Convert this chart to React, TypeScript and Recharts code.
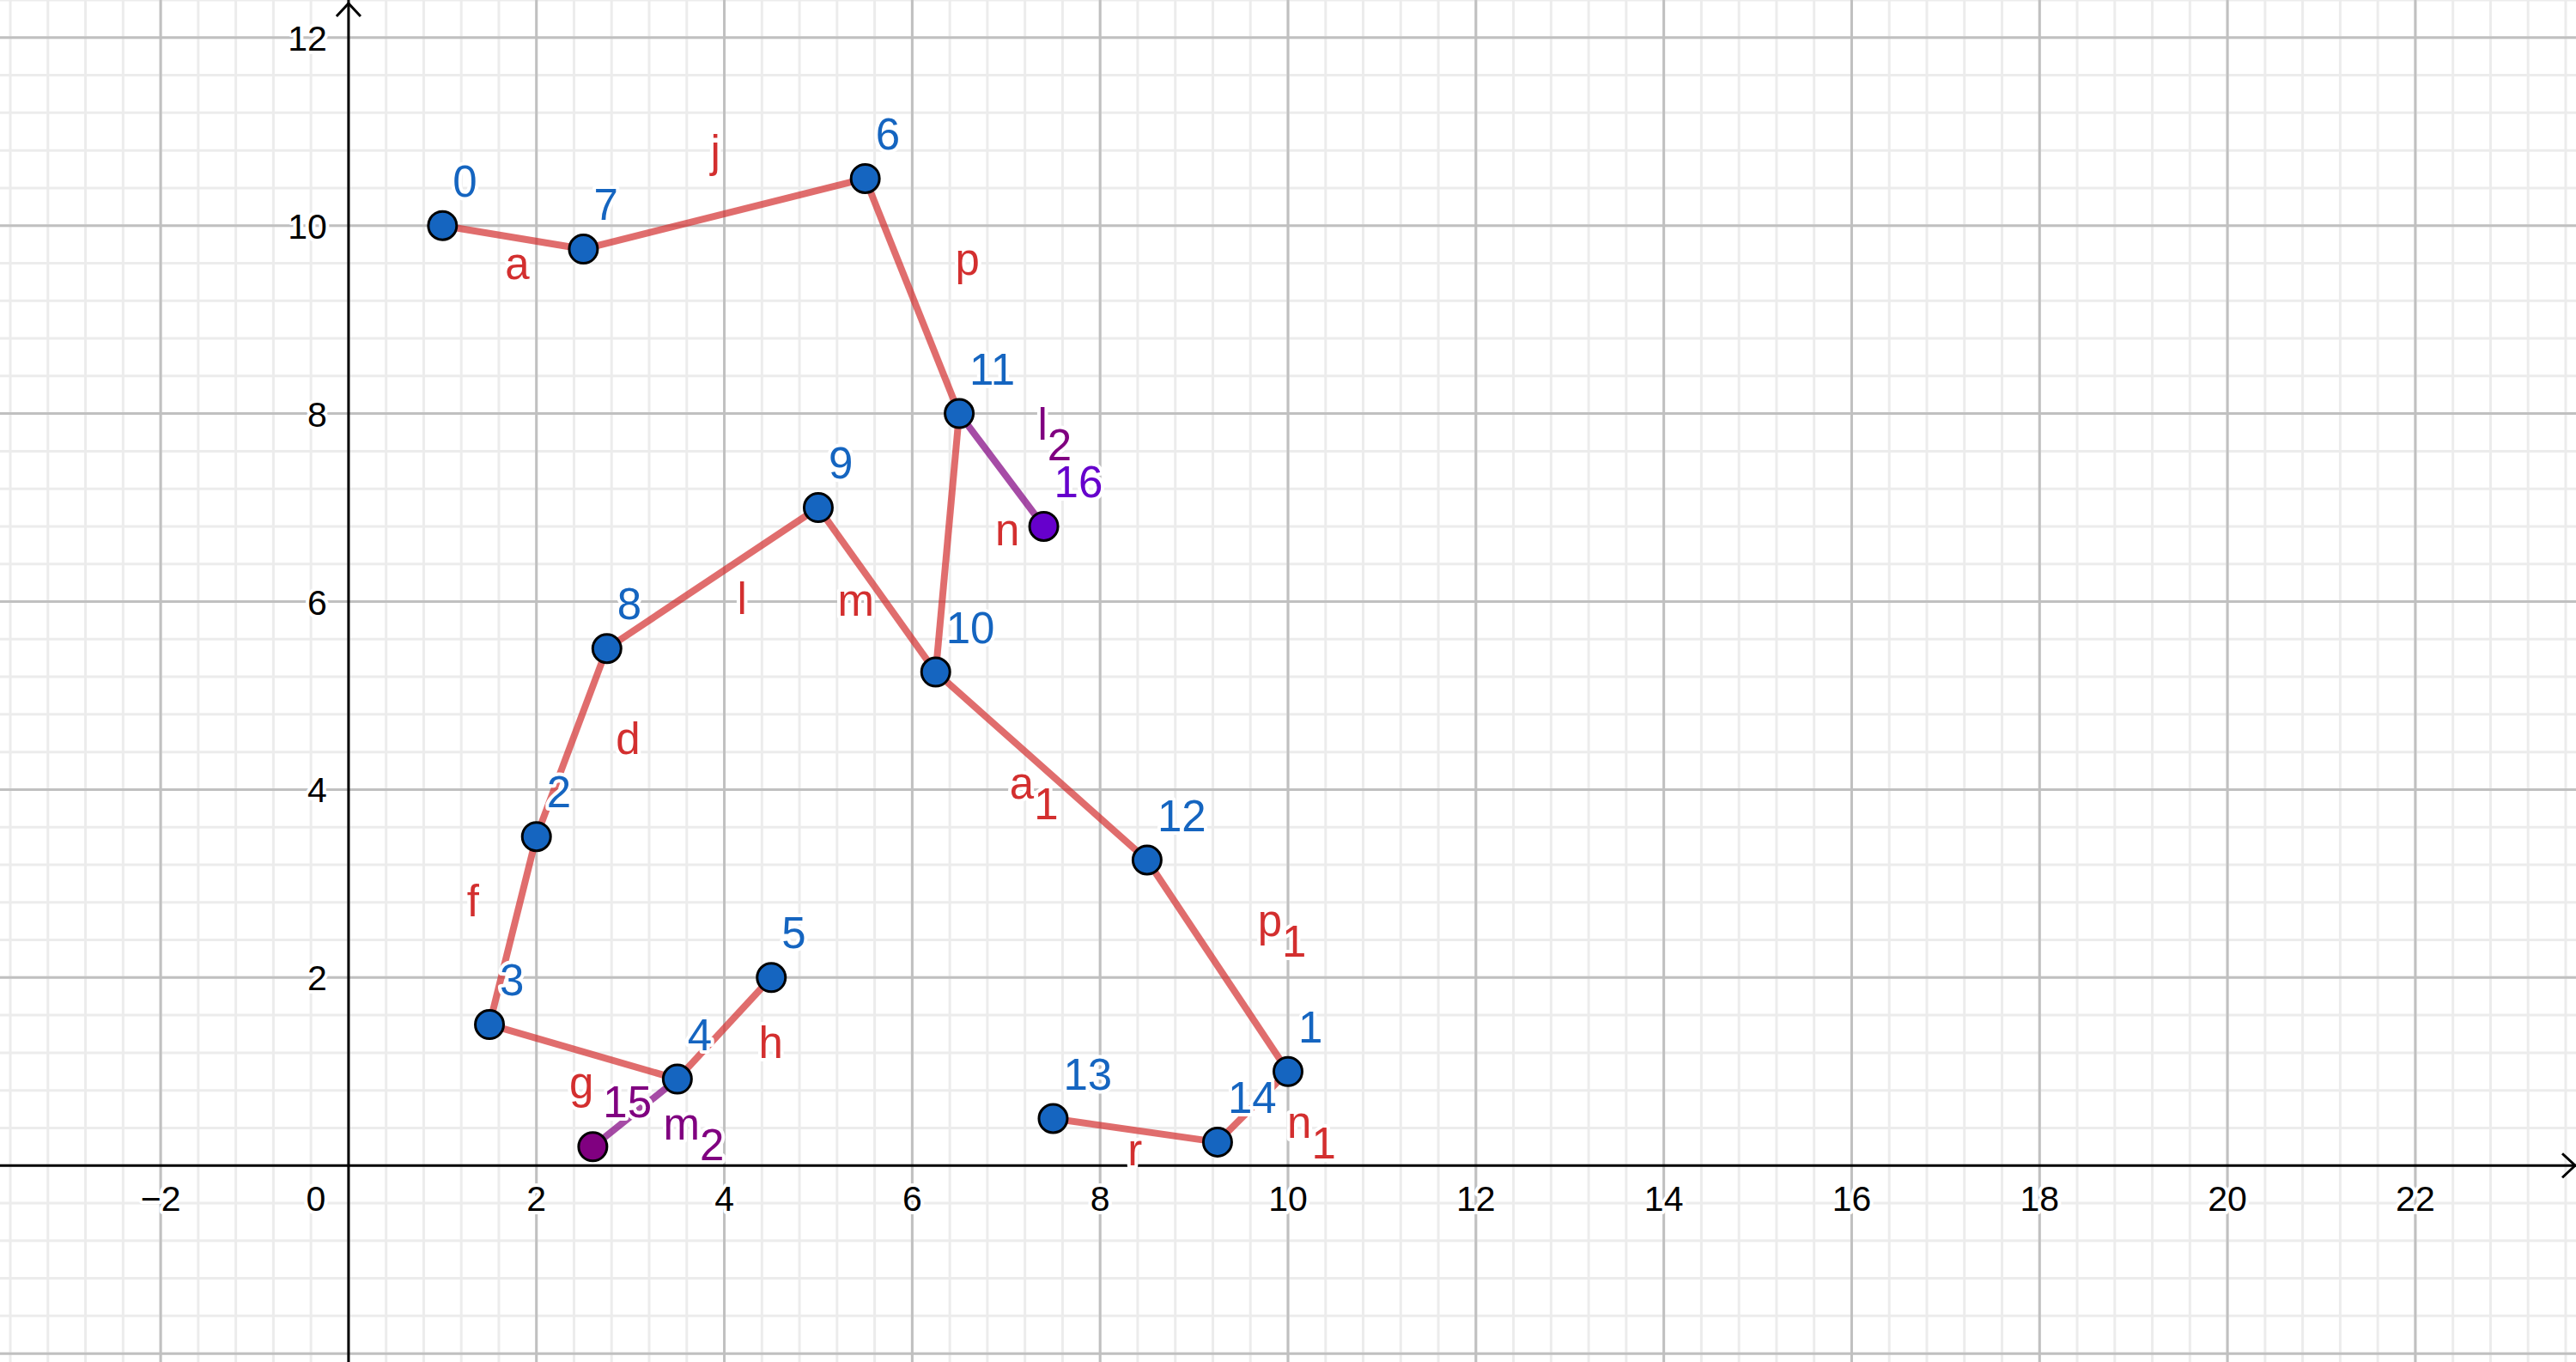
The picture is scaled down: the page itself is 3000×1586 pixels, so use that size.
import { ScatterChart, Scatter, XAxis, YAxis, ReferenceLine } from "recharts";

const X_DOMAIN: [number, number] = [-3.71, 23.71];
const Y_DOMAIN: [number, number] = [-2.09, 12.4];

// blue points (name, x, y)
const blueNames = ["0", "7", "6", "11", "9", "8", "10", "2", "12", "3", "4", "5", "13", "14", "1"];
const blueX = [1, 2.5, 5.5, 6.5, 5, 2.75, 6.25, 2, 8.5, 1.5, 3.5, 4.5, 7.5, 9.25, 10];
const blueY = [10, 9.75, 10.5, 8, 7, 5.5, 5.25, 3.5, 3.25, 1.5, 0.92, 2, 0.5, 0.25, 1];

const purpleNames = ["15"];
const purpleX = [2.6];
const purpleY = [0.2];

const violetNames = ["16"];
const violetX = [7.4];
const violetY = [6.8];

// segments between named points
const redSegFrom = ["0", "7", "6", "11", "8", "9", "2", "3", "3", "4", "10", "12", "13", "14"];
const redSegTo = ["7", "6", "11", "10", "9", "10", "8", "2", "4", "5", "12", "1", "14", "1"];
const purpleSegFrom = ["11", "4"];
const purpleSegTo = ["16", "15"];

// segment labels ("_" marks a subscript), anchored at text start / baseline
const redLabelText = ["a", "j", "p", "n", "l", "m", "d", "a_1", "f", "p_1", "h", "g", "r", "n_1"];
const redLabelX = [1.667, 3.853, 6.458, 6.884, 4.136, 5.207, 2.846, 7.037, 1.26, 9.677, 4.365, 2.35, 8.293, 9.992];
const redLabelY = [9.427, 10.626, 9.473, 6.596, 5.866, 5.847, 4.374, 3.902, 2.654, 2.441, 1.147, 0.718, 0.005, 0.295];
const purpleLabelText = ["l_2", "m_2"];
const purpleLabelX = [7.335, 3.351];
const purpleLabelY = [7.722, 0.279];

// axis tick labels
const xTickValues = [-2, 0, 2, 4, 6, 8, 10, 12, 14, 16, 18, 20, 22];
const yTickValues = [2, 4, 6, 8, 10, 12];

const FONT = "'Liberation Sans', Arial, sans-serif";
const BLUE = "#1565C0";
const RED = "#D32F2F";
const PURPLE = "#800080";
const VIOLET = "#6600CC";

const gridRange = (lo: number, hi: number, step: number) => {
  const out: number[] = [];
  const start = Math.ceil(lo / step);
  const end = Math.floor(hi / step);
  for (let k = start; k <= end; k++) out.push(Math.round(k * step * 100) / 100);
  return out;
};

const minorX = gridRange(X_DOMAIN[0], X_DOMAIN[1], 0.4);
const minorY = gridRange(Y_DOMAIN[0], Y_DOMAIN[1], 0.4);
const majorX = gridRange(X_DOMAIN[0], X_DOMAIN[1], 2).filter((v) => v !== 0);
const majorY = gridRange(Y_DOMAIN[0], Y_DOMAIN[1], 2).filter((v) => v !== 0);

const toPoints = (names: string[], xs: number[], ys: number[]) =>
  names.map((name, i) => ({ name, x: xs[i], y: ys[i] }));

const bluePoints = toPoints(blueNames, blueX, blueY);
const purplePoints = toPoints(purpleNames, purpleX, purpleY);
const violetPoints = toPoints(violetNames, violetX, violetY);
const allPoints: any = {};
[...bluePoints, ...purplePoints, ...violetPoints].forEach((p) => {
  allPoints[p.name] = p;
});

const redLabels = redLabelText.map((t, i) => ({ text: t, x: redLabelX[i], y: redLabelY[i] }));
const purpleLabels = purpleLabelText.map((t, i) => ({ text: t, x: purpleLabelX[i], y: purpleLabelY[i] }));
const xTicks = xTickValues.map((v) => ({ x: v, y: 0, v }));
const yTicks = yTickValues.map((v) => ({ x: 0, y: v, v }));

const halo = {
  stroke: "#ffffff",
  strokeWidth: 8,
  strokeLinejoin: "round" as const,
  paintOrder: "stroke" as const,
};

const pointShape = (color: string) => (props: any) => {
  const { cx, cy, payload } = props;
  return (
    <g>
      <circle cx={cx} cy={cy} r={16.5} fill={color} stroke="#000" strokeWidth={3} />
      <text x={cx + 12} y={cy - 34} fontSize={51} fontFamily={FONT} fill={color} {...halo}>
        {payload.name}
      </text>
    </g>
  );
};

const labelShape = (color: string) => (props: any) => {
  const { cx, cy, payload } = props;
  const [main, sub] = payload.text.split("_");
  return (
    <text x={cx} y={cy} fontSize={51} fontFamily={FONT} fill={color} {...halo}>
      <tspan>{main}</tspan>
      {sub && <tspan dy={24}>{sub}</tspan>}
    </text>
  );
};

const xTickShape = (props: any) => {
  const { cx, cy, payload } = props;
  const label = payload.v < 0 ? "\u2212" + Math.abs(payload.v) : String(payload.v);
  return (
    <text
      x={payload.v === 0 ? cx - 38 : cx}
      y={cy + 53}
      textAnchor="middle"
      fontSize={41}
      fontFamily={FONT}
      fill="#000"
      {...halo}
    >
      {label}
    </text>
  );
};

const yTickShape = (props: any) => {
  const { cx, cy, payload } = props;
  return (
    <text x={cx - 25} y={cy + 15} textAnchor="end" fontSize={41} fontFamily={FONT} fill="#000" {...halo}>
      {payload.v}
    </text>
  );
};

const yArrowShape = (props: any) => {
  const { cx, cy } = props;
  return (
    <path
      d={`M${cx - 14},${cy + 19} L${cx},${cy + 4} L${cx + 14},${cy + 19}`}
      fill="none"
      stroke="#000"
      strokeWidth={3}
    />
  );
};

const xArrowShape = (props: any) => {
  const { cx, cy } = props;
  return (
    <path
      d={`M${cx - 16},${cy - 14} L${cx - 1},${cy} L${cx - 16},${cy + 14}`}
      fill="none"
      stroke="#000"
      strokeWidth={3}
    />
  );
};

const App = () => {
  return (
    <div style={{ position: "absolute", left: 0, top: 0, background: "#fff" }}>
      <ScatterChart width={3000} height={1586} margin={{ top: 0, right: 0, bottom: 0, left: 0 }}>
        <XAxis type="number" dataKey="x" domain={X_DOMAIN} allowDataOverflow hide />
        <YAxis type="number" dataKey="y" domain={Y_DOMAIN} allowDataOverflow hide />

        {minorX.map((v) => (
          <ReferenceLine key={"mx" + v} x={v} stroke="#ececec" strokeWidth={3} />
        ))}
        {minorY.map((v) => (
          <ReferenceLine key={"my" + v} y={v} stroke="#ececec" strokeWidth={3} />
        ))}
        {majorX.map((v) => (
          <ReferenceLine key={"Mx" + v} x={v} stroke="#c0c0c0" strokeWidth={3} />
        ))}
        {majorY.map((v) => (
          <ReferenceLine key={"My" + v} y={v} stroke="#c0c0c0" strokeWidth={3} />
        ))}
        <ReferenceLine x={0} stroke="#000" strokeWidth={3} />
        <ReferenceLine y={0} stroke="#000" strokeWidth={3} />

        {redSegFrom.map((f, i) => {
          const a = allPoints[f];
          const b = allPoints[redSegTo[i]];
          return (
            <ReferenceLine
              key={"rs" + i}
              segment={[{ x: a.x, y: a.y }, { x: b.x, y: b.y }]}
              stroke={RED}
              strokeOpacity={0.7}
              strokeWidth={8}
            />
          );
        })}
        {purpleSegFrom.map((f, i) => {
          const a = allPoints[f];
          const b = allPoints[purpleSegTo[i]];
          return (
            <ReferenceLine
              key={"ps" + i}
              segment={[{ x: a.x, y: a.y }, { x: b.x, y: b.y }]}
              stroke={PURPLE}
              strokeOpacity={0.7}
              strokeWidth={8}
            />
          );
        })}

        <Scatter data={xTicks} shape={xTickShape} isAnimationActive={false} />
        <Scatter data={yTicks} shape={yTickShape} isAnimationActive={false} />
        <Scatter data={[{ x: 0, y: Y_DOMAIN[1] }]} shape={yArrowShape} isAnimationActive={false} />
        <Scatter data={[{ x: X_DOMAIN[1], y: 0 }]} shape={xArrowShape} isAnimationActive={false} />

        <Scatter data={redLabels} shape={labelShape(RED)} isAnimationActive={false} />
        <Scatter data={purpleLabels} shape={labelShape(PURPLE)} isAnimationActive={false} />

        <Scatter data={bluePoints} shape={pointShape(BLUE)} isAnimationActive={false} />
        <Scatter data={purplePoints} shape={pointShape(PURPLE)} isAnimationActive={false} />
        <Scatter data={violetPoints} shape={pointShape(VIOLET)} isAnimationActive={false} />
      </ScatterChart>
    </div>
  );
};

export default App;
